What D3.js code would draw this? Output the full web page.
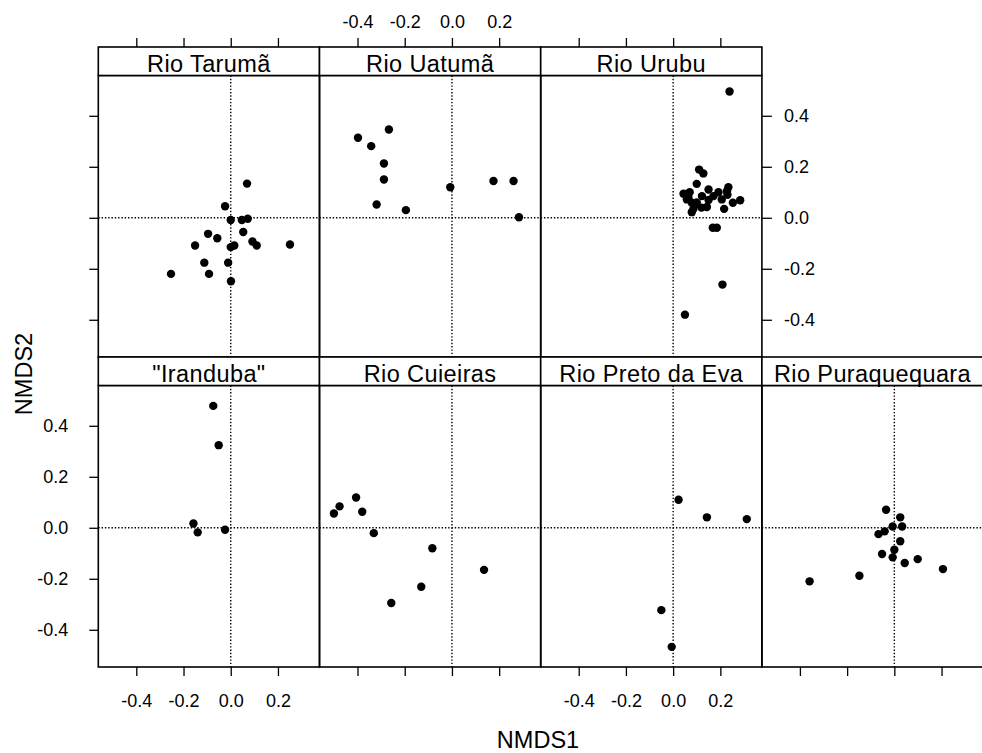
<!DOCTYPE html>
<html><head><meta charset="utf-8">
<script src="https://cdn.jsdelivr.net/npm/d3@7"></script>
<style>
html,body{margin:0;padding:0;background:#fff;}
svg{display:block;font-family:"Liberation Sans",Arial,sans-serif;}
</style></head>
<body><svg id="chart" width="982" height="753"></svg>
<script>
// ---- data ----
const panelNames = ["Rio Tarumã","Rio Uatumã","Rio Urubu","\"Iranduba\"","Rio Cuieiras","Rio Preto da Eva","Rio Puraquequara"];
const panelCols = [0,1,2,0,1,2,3];
const panelRows = [0,0,0,1,1,1,1];

const taruma = [[0.069,0.134],[-0.024,0.045],[0.0,-0.009],[0.047,-0.009],[0.072,-0.004],[0.053,-0.056],
  [-0.096,-0.063],[-0.057,-0.08],[-0.151,-0.109],[0.092,-0.093],[0.110,-0.109],[0.251,-0.105],
  [0.0,-0.115],[0.015,-0.109],[-0.112,-0.176],[-0.011,-0.176],[-0.092,-0.22],[-0.253,-0.22],[0.001,-0.249]];
const uatuma = [[-0.267,0.346],[-0.398,0.314],[-0.342,0.281],[-0.288,0.213],[-0.288,0.150],[-0.007,0.12],
  [0.176,0.144],[0.261,0.144],[-0.319,0.052],[-0.195,0.030],[0.284,0.002]];
const urubu = [[0.239,0.495],[0.110,0.189],[0.128,0.174],[0.100,0.133],[0.044,0.094],[0.065,0.078],
  [0.079,0.059],[0.086,0.035],[0.079,0.022],[0.122,0.085],[0.143,0.042],[0.150,0.111],[0.171,0.085],
  [0.192,0.100],[0.206,0.072],[0.228,0.104],[0.234,0.120],[0.253,0.059],[0.216,0.035],[0.284,0.069],
  [0.168,-0.039],[0.185,-0.039],[0.093,0.052],[0.058,0.072],[0.07,0.10],[0.10,0.06],[0.15,0.07],
  [0.23,0.09],[0.12,0.04],[0.209,-0.262],[0.050,-0.380]];
const iranduba = [[-0.074,0.478],[-0.051,0.324],[-0.158,0.017],[-0.140,-0.018],[-0.024,-0.008]];
const cuieiras = [[-0.406,0.119],[-0.476,0.084],[-0.500,0.056],[-0.380,0.063],[-0.331,-0.021],
  [-0.083,-0.080],[0.136,-0.165],[-0.130,-0.231],[-0.257,-0.295]];
const pretoDaEva = [[0.023,0.110],[0.143,0.041],[0.312,0.034],[-0.050,-0.323],[-0.006,-0.467]];
const puraquequara = [[-0.035,0.071],[0.025,0.041],[0.033,0.005],[-0.007,0.005],[-0.041,-0.014],
  [-0.067,-0.025],[0.025,-0.053],[0.0,-0.086],[-0.052,-0.103],[-0.007,-0.116],[0.044,-0.138],
  [0.099,-0.123],[0.206,-0.162],[-0.148,-0.188],[-0.359,-0.210]];
const panelData = [taruma, uatuma, urubu, iranduba, cuieiras, pretoDaEva, puraquequara];

const xTicks = [-0.4,-0.2,0.0,0.2];
const yTicks = [-0.4,-0.2,0.0,0.2,0.4];
const xDomain = [-0.561, 0.376];
const yDomain = [-0.546, 0.558];
const xLabel = "NMDS1", yLabel = "NMDS2";

// ---- layout ----
const svg = d3.select("#chart");
const left0 = 98.3, panelW = 221.2;
const stripTops = [47, 357], stripH = 28.5, panelH = 281.5;
const fmt = d => d.toFixed(1);
const tickFont = 18, bigFont = 23.5;

function xs(c){ const l = left0 + c*panelW; return d3.scaleLinear().domain(xDomain).range([l, l+panelW]); }
function ys(r){ const t = stripTops[r] + stripH; return d3.scaleLinear().domain(yDomain).range([t+panelH, t]); }

panelNames.forEach((name,i)=>{
  const c = panelCols[i], r = panelRows[i];
  const x = xs(c), y = ys(r);
  const g = svg.append("g");
  const l = x.range()[0], t = y.range()[1], b = y.range()[0];
  // reference lines
  g.append("line").attr("x1",x(0)).attr("x2",x(0)).attr("y1",t).attr("y2",b)
    .attr("stroke","#000").attr("stroke-width",1.4).attr("stroke-dasharray","1.4,1.9");
  g.append("line").attr("x1",l).attr("x2",l+panelW).attr("y1",y(0)).attr("y2",y(0))
    .attr("stroke","#000").attr("stroke-width",1.4).attr("stroke-dasharray","1.4,1.9");
  // points
  g.selectAll("circle").data(panelData[i]).join("circle")
    .attr("cx",d=>x(d[0])).attr("cy",d=>y(d[1])).attr("r",4.2).attr("fill","#000");
  // border
  g.append("rect").attr("x",l).attr("y",t).attr("width",panelW).attr("height",panelH)
    .attr("fill","none").attr("stroke","#000").attr("stroke-width",1.6);
  // strip
  g.append("rect").attr("x",l).attr("y",stripTops[r]).attr("width",panelW).attr("height",stripH)
    .attr("fill","#fff").attr("stroke","#000").attr("stroke-width",1.6);
  g.append("text").attr("x",l+panelW/2).attr("y",stripTops[r]+24.5).attr("text-anchor","middle")
    .attr("font-size",bigFont).attr("letter-spacing",0.4).attr("fill","#000").text(name);
});

function styleAxis(sel){
  sel.select(".domain").remove();
  sel.selectAll("line").attr("stroke","#000").attr("stroke-width",1.3);
  sel.selectAll("text").attr("font-size",tickFont).attr("fill","#000")
    .attr("font-family","'Liberation Sans',Arial,sans-serif");
}
// top axes (top row columns 0-2); labels only on column 1
[0,1,2].forEach(c=>{
  const ax = d3.axisTop(xs(c)).tickValues(xTicks).tickSize(9).tickPadding(9.7)
    .tickFormat(c===1 ? fmt : "");
  svg.append("g").attr("transform",`translate(0,${stripTops[0]})`).call(ax).call(styleAxis);
});
// bottom axes (bottom row columns 0-3); labels on columns 0 and 2
[0,1,2,3].forEach(c=>{
  const ax = d3.axisBottom(xs(c)).tickValues(xTicks).tickSize(9).tickPadding(17.9)
    .tickFormat((c===0||c===2) ? fmt : "");
  svg.append("g").attr("transform",`translate(0,${stripTops[1]+stripH+panelH})`).call(ax).call(styleAxis);
});
// left axes; labels on bottom row
[0,1].forEach(r=>{
  const ax = d3.axisLeft(ys(r)).tickValues(yTicks).tickSize(9).tickPadding(21)
    .tickFormat(r===1 ? fmt : "");
  svg.append("g").attr("transform",`translate(${left0},0)`).call(ax).call(styleAxis);
});
// right axis for top row (right of column 2), with labels
{
  const ax = d3.axisRight(ys(0)).tickValues(yTicks).tickSize(10).tickPadding(12)
    .tickFormat(fmt);
  svg.append("g").attr("transform",`translate(${left0+3*panelW},0)`).call(ax).call(styleAxis);
}
// axis titles
svg.append("text").attr("x",538).attr("y",748).attr("text-anchor","middle")
  .attr("font-size",bigFont).attr("fill","#000").text(xLabel);
svg.append("text").attr("transform","translate(32,374) rotate(-90)").attr("text-anchor","middle")
  .attr("font-size",bigFont).attr("fill","#000").text(yLabel);
</script>
</body></html>
